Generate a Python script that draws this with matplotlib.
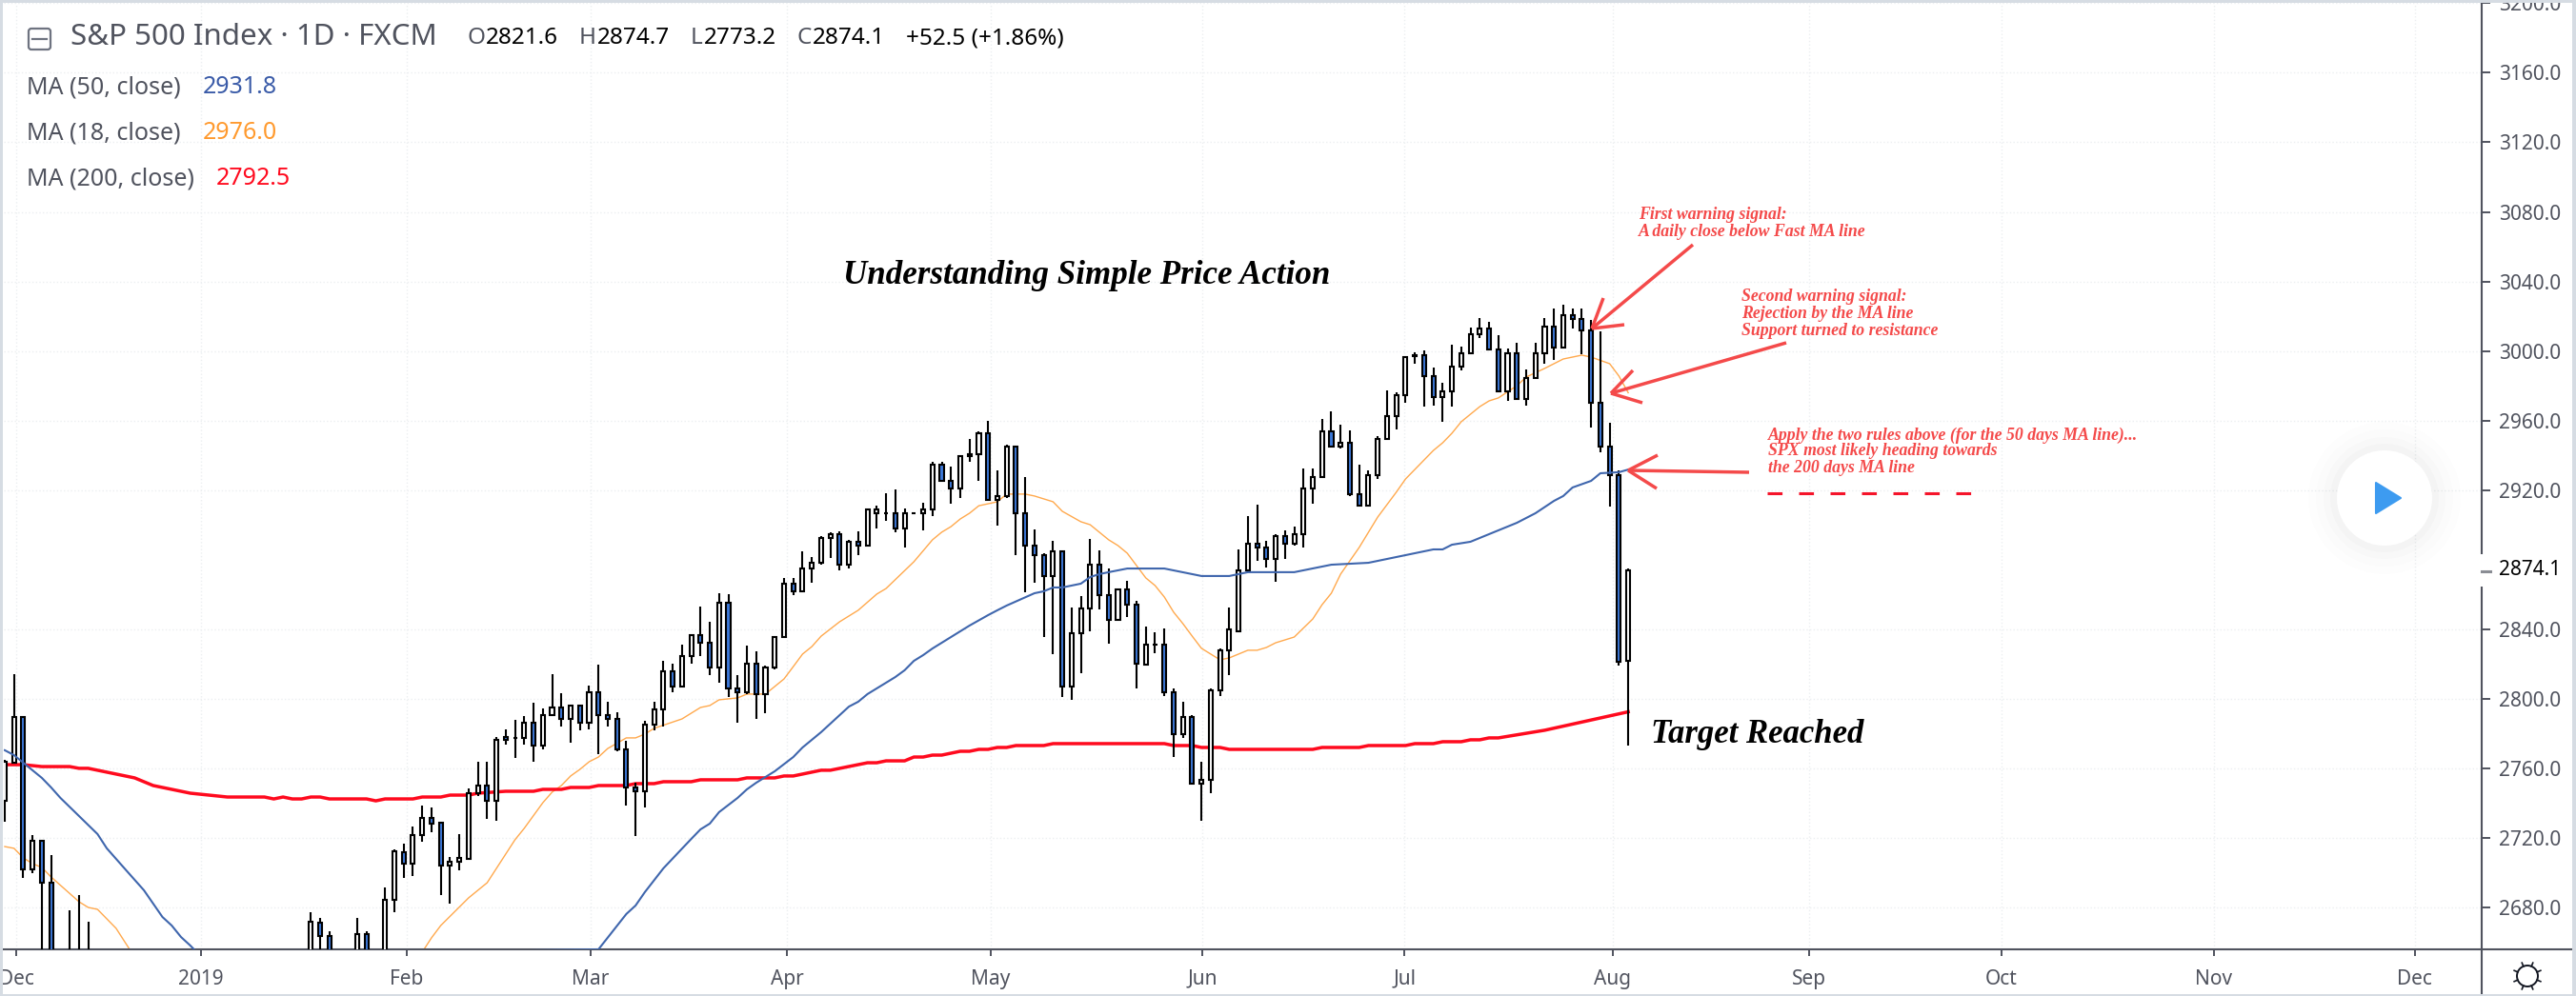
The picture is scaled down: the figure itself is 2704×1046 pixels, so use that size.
import numpy as np
import matplotlib
matplotlib.use('Agg')
import matplotlib.pyplot as plt
from matplotlib.patches import Circle, Polygon, Rectangle, FancyBboxPatch

nan = float('nan')

opens = [2741.3, 2763.2, 2789.5, 2701.9, 2718.3, 2694.2, nan, 2640, 2650, 2640,
         nan, nan, nan, nan, nan, nan, nan, nan, nan, nan,
         nan, nan, nan, nan, nan, nan, nan, nan, nan, nan,
         nan, nan, nan, 2640, 2671.2, 2663.6, nan, nan, 2645, 2664.7,
         nan, 2645, 2684.4, 2711.8, 2705.2, 2721.6, 2731.5, 2728.7, 2704.1, 2706.3,
         2707.9, 2745.7, 2750.1, 2741.3, 2778.0, 2777.5, 2777.5, 2786.2, 2773.1, 2790.6,
         2795.0, 2788.4, 2796.1, 2786.2, 2803.8, 2790.6, 2788.4, 2770.9, 2749.0, 2746.8,
         2785.1, 2793.9, 2815.8, 2807.0, 2824.6, 2836.6, 2832.2, 2818.0, 2855.2, 2805.9,
         2803.8, 2820.2, 2802.7, 2818.0, 2835.5, 2866.2, 2861.8, 2874.9, 2878.2, 2892.5,
         2894.7, 2877.1, 2890.3, 2888.1, 2906.7, 2906.7, 2906.7, 2897.9, 2906.7, 2906.7,
         2908.9, 2934.6, 2925.3, 2920.9, 2940.7, 2940.7, 2952.7, 2914.4, 2916.6, 2945.0,
         2906.7, 2888.1, 2882.6, 2870.6, 2884.8, 2807.0, 2837.7, 2851.9, 2877.1, 2859.6,
         2845.4, 2862.9, 2854.1, 2819.6, 2831.1, 2831.1, 2803.8, 2779.7, 2789.5, 2751.2,
         2753.4, 2804.9, 2827.9, 2838.8, 2873.9, 2889.2, 2887.0, 2880.4, 2893.6, 2889.2,
         2894.7, 2920.9, 2927.5, 2953.8, 2945.0, 2947.2, 2917.7, 2911.1, 2928.6, 2949.4,
         2962.6, 2974.6, 2997.6, 2997.6, 2985.6, 2973.5, 2976.8, 2991.0, 2998.7, 3009.7,
         3012.9, 3000.9, 2976.8, 2998.7, 2972.4, 2984.5, 2998.7, 3014.0, 3002.0, 3020.6,
         3018.4, 3011.8, 2970.2, 2945.0, 2928.6, 2821.6]

highs = [2764.9, 2814.2, 2789.5, 2721.6, 2718.3, 2710.1, nan, 2678.4, 2687.1, 2671.8,
         nan, nan, nan, nan, nan, nan, nan, nan, nan, nan,
         nan, nan, nan, nan, nan, nan, nan, nan, nan, nan,
         nan, nan, nan, 2677.3, 2674.0, 2666.3, nan, nan, 2674.0, 2666.3,
         nan, 2691.5, 2713.4, 2716.7, 2726.5, 2738.6, 2737.5, 2729.3, 2709.0, 2722.2,
         2748.5, 2763.8, 2763.8, 2778.0, 2782.4, 2787.9, 2790.1, 2797.7, 2794.4, 2814.2,
         2803.2, 2796.1, 2796.1, 2807.6, 2819.6, 2798.3, 2792.3, 2775.8, 2751.7, 2787.3,
         2798.3, 2821.8, 2820.2, 2831.1, 2836.6, 2853.0, 2844.3, 2860.7, 2860.2, 2813.6,
         2830.6, 2827.3, 2819.1, 2835.5, 2869.5, 2869.5, 2884.8, 2881.5, 2893.6, 2895.8,
         2896.3, 2891.4, 2896.3, 2909.4, 2911.1, 2918.2, 2920.4, 2909.4, 2906.7, 2912.7,
         2936.3, 2936.3, 2933.5, 2940.1, 2949.4, 2953.8, 2959.8, 2931.3, 2946.1, 2945.0,
         2927.5, 2897.4, 2883.7, 2890.8, 2884.8, 2852.5, 2859.1, 2891.9, 2885.4, 2874.9,
         2863.4, 2867.8, 2856.3, 2841.5, 2838.3, 2840.4, 2805.9, 2798.3, 2790.6, 2763.8,
         2805.9, 2828.9, 2852.5, 2885.9, 2905.1, 2911.6, 2890.8, 2894.7, 2896.8, 2899.0,
         2932.4, 2932.4, 2960.9, 2965.3, 2957.6, 2954.3, 2934.6, 2931.3, 2951.1, 2977.3,
         2976.3, 2997.1, 2999.3, 3000.3, 2990.5, 2981.7, 3003.6, 3002.5, 3013.5, 3019.0,
         3016.8, 3009.1, 3001.4, 3004.7, 2989.4, 3004.7, 3019.0, 3024.5, 3026.6, 3024.5,
         3024.5, 3017.9, 3011.3, 2958.7, 2931.3, 2874.7]

lows = [2729.3, 2763.2, 2697.0, 2699.7, 2640, 2630, nan, 2630, 2630, 2620,
        nan, nan, nan, nan, nan, nan, nan, nan, nan, nan,
        nan, nan, nan, nan, nan, nan, nan, nan, nan, nan,
        nan, nan, nan, 2635, 2650, 2640, nan, nan, 2640, 2640,
        nan, 2640, 2677.3, 2697.0, 2698.1, 2717.8, 2723.3, 2687.1, 2682.2, 2701.4,
        2707.4, 2744.1, 2730.9, 2729.8, 2773.6, 2766.0, 2773.6, 2763.8, 2770.9, 2790.6,
        2784.0, 2774.7, 2781.9, 2782.4, 2768.2, 2784.0, 2769.8, 2738.6, 2721.1, 2737.5,
        2781.9, 2784.0, 2803.8, 2807.0, 2820.2, 2824.6, 2813.6, 2809.2, 2801.0, 2786.2,
        2802.7, 2788.4, 2791.7, 2816.9, 2835.5, 2859.6, 2861.8, 2866.7, 2877.1, 2881.0,
        2873.9, 2874.9, 2882.6, 2888.1, 2897.9, 2902.3, 2895.8, 2887.0, 2906.7, 2896.8,
        2905.1, 2925.3, 2912.2, 2915.5, 2936.3, 2925.3, 2914.4, 2899.6, 2915.5, 2882.6,
        2861.3, 2866.7, 2835.5, 2825.7, 2801.0, 2799.4, 2814.7, 2838.8, 2851.4, 2831.7,
        2845.4, 2847.0, 2805.9, 2819.1, 2826.2, 2801.6, 2766.5, 2777.5, 2751.2, 2729.8,
        2745.7, 2801.6, 2813.6, 2838.8, 2873.9, 2879.3, 2875.5, 2867.3, 2880.4, 2888.1,
        2887.0, 2912.2, 2927.5, 2945.0, 2943.9, 2916.6, 2911.1, 2911.1, 2926.4, 2949.4,
        2954.9, 2970.2, 2992.7, 2968.0, 2968.6, 2959.3, 2968.0, 2988.8, 2998.7, 3007.5,
        3000.9, 2976.8, 2971.3, 2972.4, 2968.6, 2984.5, 2992.7, 2994.9, 3002.0, 3012.9,
        2998.2, 2956.0, 2941.8, 2910.5, 2819.1, 2773.2]

closes = [2763.8, 2789.5, 2701.9, 2718.3, 2694.2, 2640, nan, 2650, 2645, 2635,
          nan, nan, nan, nan, nan, nan, nan, nan, nan, nan,
          nan, nan, nan, nan, nan, nan, nan, nan, nan, nan,
          nan, nan, nan, 2671.8, 2663.6, 2645, nan, nan, 2664.7, 2645,
          nan, 2684.4, 2712.3, 2705.2, 2721.6, 2731.5, 2728.2, 2704.1, 2706.3, 2708.5,
          2745.7, 2750.1, 2741.3, 2776.4, 2776.4, 2777.5, 2786.2, 2773.1, 2790.6, 2795.0,
          2788.4, 2796.1, 2786.2, 2803.8, 2790.6, 2788.4, 2770.9, 2749.0, 2746.8, 2785.1,
          2793.9, 2815.8, 2807.0, 2824.6, 2836.6, 2832.2, 2818.0, 2855.2, 2805.9, 2803.8,
          2820.2, 2802.7, 2818.0, 2835.5, 2866.2, 2861.8, 2874.9, 2878.2, 2892.5, 2894.7,
          2877.1, 2890.3, 2888.1, 2908.9, 2908.9, 2906.7, 2897.9, 2906.7, 2906.7, 2908.9,
          2934.6, 2925.3, 2920.9, 2939.6, 2939.6, 2952.7, 2914.4, 2916.6, 2945.0, 2906.7,
          2888.1, 2882.6, 2870.6, 2884.8, 2807.0, 2837.7, 2851.9, 2877.1, 2859.6, 2845.4,
          2862.9, 2854.1, 2820.2, 2831.1, 2831.1, 2803.8, 2779.7, 2789.5, 2751.2, 2753.4,
          2804.9, 2827.9, 2839.9, 2873.9, 2889.2, 2887.0, 2880.4, 2893.6, 2889.2, 2894.7,
          2920.9, 2927.5, 2953.8, 2945.0, 2947.2, 2917.7, 2911.1, 2928.6, 2949.4, 2962.6,
          2974.6, 2996.5, 2997.0, 2985.6, 2973.5, 2976.8, 2991.0, 2998.7, 3009.7, 3012.9,
          3000.9, 2976.8, 2998.7, 2972.4, 2984.5, 2998.7, 3014.0, 3002.0, 3020.6, 3018.4,
          3011.8, 2970.2, 2945.0, 2928.6, 2821.3, 2874.1]

ma200_bars = [0, 2, 4, 7, 8, 9, 14, 16, 20, 22, 24, 28, 29, 30, 31, 32, 33, 34, 35, 39,
              40, 41, 44, 45, 47, 48, 50, 51, 54, 57, 58, 60, 61, 63, 64, 67, 68, 70, 71, 74,
              75, 79, 80, 83, 84, 85, 88, 89, 93, 94, 95, 97, 98, 99, 100, 101, 103, 104, 105, 106,
              107, 108, 109, 112, 113, 125, 126, 128, 129, 131, 132, 141, 142, 146, 147, 151, 152, 154, 155, 157,
              158, 159, 160, 161, 166, 175]
ma200 = [2762.1, 2762.1, 2761.0, 2761.0, 2760.0, 2760.0, 2754.5, 2750.1, 2745.7, 2744.6,
         2743.5, 2743.5, 2742.4, 2743.5, 2742.4, 2742.4, 2743.5, 2743.5, 2742.4, 2742.4,
         2741.3, 2742.4, 2742.4, 2743.5, 2743.5, 2744.6, 2744.6, 2745.7, 2746.8, 2746.8,
         2747.9, 2747.9, 2749.0, 2749.0, 2750.1, 2750.1, 2751.2, 2751.2, 2752.3, 2752.3,
         2753.4, 2753.4, 2754.5, 2754.5, 2755.6, 2755.6, 2758.9, 2758.9, 2763.2, 2763.2,
         2764.3, 2764.3, 2766.5, 2766.5, 2767.6, 2767.6, 2769.8, 2769.8, 2770.9, 2770.9,
         2772.0, 2772.0, 2773.1, 2773.1, 2774.2, 2774.2, 2773.1, 2773.1, 2772.0, 2772.0,
         2770.9, 2770.9, 2772.0, 2772.0, 2773.1, 2773.1, 2774.2, 2774.2, 2775.3, 2775.3,
         2776.4, 2776.4, 2777.5, 2777.5, 2781.9, 2792.5]

ma50_bars = [0, 1, 2, 4, 5, 6, 10, 11, 13, 14, 15, 17, 18, 19, 20, 21, 64, 67, 68, 69,
             71, 74, 75, 76, 77, 79, 80, 81, 83, 85, 86, 88, 90, 91, 92, 93, 96, 97, 98, 99,
             100, 104, 106, 107, 108, 111, 112, 113, 114, 116, 117, 118, 119, 121, 125, 129, 132, 134, 139, 143,
             147, 151, 154, 155, 156, 158, 163, 165, 167, 168, 169, 171, 172, 174, 175]
ma50 = [2770.4, 2767.6, 2763.2, 2754.5, 2749.0, 2743.0, 2722.2, 2714.0, 2701.9, 2695.9,
        2689.9, 2674.5, 2669.6, 2663.0, 2658.1, 2652.6, 2655.9, 2676.2, 2681.1, 2688.8,
        2702.5, 2719.4, 2724.9, 2728.2, 2734.8, 2743.0, 2747.9, 2751.7, 2758.3, 2766.5,
        2772.0, 2780.8, 2790.6, 2795.5, 2798.3, 2802.7, 2812.5, 2816.4, 2821.8, 2825.1,
        2828.9, 2842.1, 2848.1, 2850.9, 2853.6, 2860.7, 2861.8, 2864.0, 2864.0, 2866.2,
        2870.0, 2871.7, 2872.8, 2874.9, 2874.9, 2870.6, 2870.6, 2872.8, 2872.8, 2877.1,
        2878.2, 2882.6, 2885.9, 2885.9, 2888.6, 2890.3, 2901.2, 2906.7, 2913.8, 2916.6,
        2921.5, 2925.3, 2929.7, 2930.3, 2931.8]

ma18_bars = [0, 1, 2, 3, 4, 5, 8, 9, 10, 12, 13, 14, 45, 46, 47, 50, 52, 55, 56, 58,
             59, 60, 61, 62, 63, 64, 65, 67, 68, 69, 70, 73, 75, 76, 77, 79, 80, 82, 84, 85,
             86, 87, 88, 90, 92, 94, 95, 98, 100, 101, 102, 103, 104, 105, 107, 108, 110, 111, 113, 114,
             116, 117, 119, 120, 121, 123, 124, 125, 126, 127, 128, 129, 131, 132, 134, 135, 136, 137, 139, 141,
             142, 143, 144, 146, 148, 150, 151, 154, 155, 156, 157, 159, 160, 161, 163, 164, 166, 168, 170, 171,
             173, 174, 175]
ma18 = [2715.0, 2714.0, 2708.5, 2705.2, 2703.0, 2697.5, 2683.3, 2680.0, 2678.9, 2668.0,
        2659.7, 2651.5, 2654.3, 2662.5, 2669.6, 2685.5, 2694.2, 2718.9, 2725.5, 2740.2,
        2746.3, 2750.1, 2755.6, 2759.4, 2763.8, 2766.5, 2771.4, 2777.5, 2777.5, 2779.7,
        2783.0, 2788.4, 2795.0, 2796.1, 2799.4, 2800.5, 2802.7, 2802.7, 2811.4, 2818.5,
        2825.7, 2830.0, 2836.0, 2844.3, 2850.9, 2860.2, 2863.4, 2878.8, 2891.4, 2895.8,
        2899.0, 2903.4, 2906.7, 2911.0, 2913.3, 2917.7, 2917.7, 2916.6, 2913.3, 2907.8,
        2901.8, 2900.1, 2891.4, 2888.1, 2883.7, 2869.5, 2865.1, 2858.5, 2849.8, 2843.2,
        2836.0, 2829.0, 2822.4, 2823.5, 2827.9, 2827.9, 2829.5, 2832.2, 2835.5, 2845.9,
        2854.1, 2860.7, 2871.7, 2887.0, 2904.5, 2918.8, 2926.4, 2942.8, 2947.2, 2952.7,
        2959.3, 2968.0, 2971.3, 2973.0, 2980.0, 2985.0, 2990.0, 2995.4, 2997.6, 2996.5,
        2992.7, 2985.6, 2976.0]

price_ticks = [2680, 2720, 2760, 2800, 2840, 2920, 2960, 3000, 3040, 3080, 3120, 3160, 3200]
month_labels = ['Dec', '2019', 'Feb', 'Mar', 'Apr', 'May', 'Jun', 'Jul', 'Aug', 'Sep', 'Oct', 'Nov', 'Dec']
month_ticks = [1.23, 21.16, 43.34, 63.16, 84.3, 106.3, 129.1, 150.9, 173.3, 194.5, 215.2, 238.1, 259.8]
last_close = 2874.1

GREY = '#50535e'
BLUE_BODY = '#3c78d8'
NOTE_RED = '#f44a4a'
UI_FONT = 'Noto Sans'
NOTE_FONT = 'Liberation Serif'

W, H = 2704, 1046
fig = plt.figure(figsize=(W / 100, H / 100), dpi=100, facecolor='white')

# chart area, the axis lines sit at x=2605 and y=997 in the picture
ax = fig.add_axes([4 / W, (H - 997) / H, (2605 - 4) / W, (997 - 3) / H])
ax.set_xlim(-0.1, 267.0)
ax.set_ylim(2655.9, 3200.2)

o = np.array(opens, dtype=float)
h = np.array(highs, dtype=float)
l = np.array(lows, dtype=float)
c = np.array(closes, dtype=float)
bars = np.arange(len(o))
seen = ~np.isnan(o)

ax.plot(ma18_bars, ma18, color='#ffa94d', lw=1.0, zorder=2)
ax.plot(ma200_bars, ma200, color='#ff0a1e', lw=2.5, zorder=2)

ax.vlines(bars[seen], l[seen], h[seen], color='black', lw=1.5, zorder=3)
fills = np.where(c[seen] < o[seen], BLUE_BODY, 'white')
ax.bar(bars[seen], np.abs(c[seen] - o[seen]), bottom=np.minimum(o[seen], c[seen]), width=0.42,
       color=fills, edgecolor='black', linewidth=1.5, zorder=4)

ax.plot(ma50_bars, ma50, color='#3f66ad', lw=1.5, zorder=5)

ax.set_yticks(price_ticks)
ax.set_yticklabels([f'{p:.1f}' for p in price_ticks])
ax.yaxis.tick_right()
ax.tick_params(axis='y', length=6.5, width=1.4, color=GREY, pad=6.5, labelsize=15, labelcolor=GREY)
ax.set_xticks(month_ticks)
ax.set_xticklabels(month_labels)
ax.tick_params(axis='x', length=5, width=1.4, color=GREY, pad=10, labelsize=15, labelcolor=GREY)
ax.xaxis.get_ticklabels()[1].set_fontweight('bold')
for lab in ax.get_xticklabels() + ax.get_yticklabels():
    lab.set_fontfamily(UI_FONT)

ax.grid(True, ls=':', lw=1.0, color='#eceff1', zorder=0)
ax.set_axisbelow(True)
for side in ['top', 'left']:
    ax.spines[side].set_visible(False)
for side in ['right', 'bottom']:
    ax.spines[side].set_color(GREY)
    ax.spines[side].set_linewidth(1.5)

# everything that is not data goes on a pixel overlay
ui = fig.add_axes([0, 0, 1, 1], facecolor='none')
ui.set_xlim(0, W)
ui.set_ylim(H, 0)
ui.axis('off')

# last price label, hides the axis line behind it
ui.add_patch(Rectangle((2600, 582), 100, 34, fc='white', ec='none', zorder=1))
ui.plot([2605, 2614], [600, 600], color='#8a8d94', lw=2.2, zorder=2)
ui.text(2623, 599, f'{last_close:.1f}', color='black', fontsize=15, family=UI_FONT, va='center', zorder=2)

# bottom and right panel lines
ui.plot([2605, 2700], [997, 997], color=GREY, lw=1.5, zorder=2)
ui.plot([2605, 2605], [997, 1044], color=GREY, lw=1.5, zorder=2)

# header
ui.add_patch(FancyBboxPatch((30, 30), 23, 22, boxstyle='round,pad=0,rounding_size=3', fc='none', ec='#6e7380', lw=1.6))
ui.plot([34, 49], [41, 41], color='#6e7380', lw=1.6)
ui.text(74, 39, 'S&P 500 Index · 1D · FXCM', color=GREY, fontsize=22.5, family=UI_FONT, va='center')
for x, letter, val in [(490, 'O', '2821.6'), (608, 'H', '2874.7'), (725, 'L', '2773.2'), (837, 'C', '2874.1')]:
    t = ui.text(x, 40, letter, color=GREY, fontsize=17.5, family=UI_FONT, va='center')
    fig.canvas.draw()
    bb = t.get_window_extent()
    ui.text(bb.x1 + 1, 40, val, color='black', fontsize=17.5, family=UI_FONT, va='center')
ui.text(951, 40, '+52.5 (+1.86%)', color='black', fontsize=17.5, family=UI_FONT, va='center')

ui.text(28, 92, 'MA (50, close)', color=GREY, fontsize=18, family=UI_FONT, va='center')
ui.text(213, 92, '2931.8', color='#3a5ba8', fontsize=18, family=UI_FONT, va='center')
ui.text(28, 140, 'MA (18, close)', color=GREY, fontsize=18, family=UI_FONT, va='center')
ui.text(213, 140, '2976.0', color='#ff9a2e', fontsize=18, family=UI_FONT, va='center')
ui.text(28, 188, 'MA (200, close)', color=GREY, fontsize=18, family=UI_FONT, va='center')
ui.text(227, 188, '2792.5', color='#ff0a1e', fontsize=18, family=UI_FONT, va='center')

# drawn notes
ui.text(885, 290, 'Understanding Simple Price Action', color='black', fontsize=25.2, family=NOTE_FONT,
        style='italic', weight='bold', va='center')
ui.text(1733, 771, 'Target Reached', color='black', fontsize=25, family=NOTE_FONT,
        style='italic', weight='bold', va='center')

notes = [(1720, [225, 243], ['First warning signal:', 'A daily close below Fast MA line']),
         (1828, [311, 329, 347], ['Second warning signal:', 'Rejection by the MA line', 'Support turned to resistance']),
         (1856, [457, 474, 492], ['Apply the two rules above (for the 50 days MA line)...',
                                  'SPX most likely heading towards', 'the 200 days MA line'])]
for x, ys, lines in notes:
    for y, line in zip(ys, lines):
        ui.text(x, y, line, color=NOTE_RED, fontsize=12.75, family=NOTE_FONT, style='italic', weight='bold', va='center')

arrows = [((1777, 257), (1671, 345), (1683, 313), (1705, 341)),
          ((1875, 360), (1691, 413), (1714, 389), (1724, 423)),
          ((1836, 496), (1709, 494), (1740, 478), (1739, 513))]
for tail, tip, barb1, barb2 in arrows:
    for start in (tail, barb1, barb2):
        ui.plot([start[0], tip[0]], [start[1], tip[1]], color=NOTE_RED, lw=2.5, solid_capstyle='butt', zorder=6)

ui.plot([1855, 2070], [518, 518], color='#f5142a', lw=2.2, dashes=(5.1, 5.7), zorder=6)

# play button
for r, a in [(80, 0.006), (72, 0.008), (64, 0.01), (57, 0.014)]:
    ui.add_patch(Circle((2503, 523), r, fc='black', ec='none', alpha=a, zorder=7))
ui.add_patch(Circle((2503, 523), 50, fc='white', ec='none', zorder=8))
ui.add_patch(Polygon([(2494, 507), (2494, 539), (2520, 523)], closed=True, fc='#3d9bf0', ec='#3d9bf0',
                     lw=1.5, joinstyle='round', zorder=9))

# settings icon
ui.add_patch(Circle((2653, 1025), 11, fc='none', ec='#131722', lw=1.4))
for ang in np.arange(0, 360, 45) + 22.5:
    dx, dy = np.cos(np.radians(ang)), np.sin(np.radians(ang))
    ui.plot([2653 + 11 * dx, 2653 + 15 * dx], [1025 + 11 * dy, 1025 + 15 * dy], color='#131722', lw=1.2)

# outer frame of the screenshot
for rect in [(0, 0, W, 3), (0, 0, 3, H), (0, 1044, W, 2), (2700, 0, 4, H)]:
    ui.add_patch(Rectangle(rect[:2], rect[2], rect[3], fc='#d6dce3', ec='none', zorder=10))

fig.savefig('out.png', dpi=100)
plt.close(fig)
